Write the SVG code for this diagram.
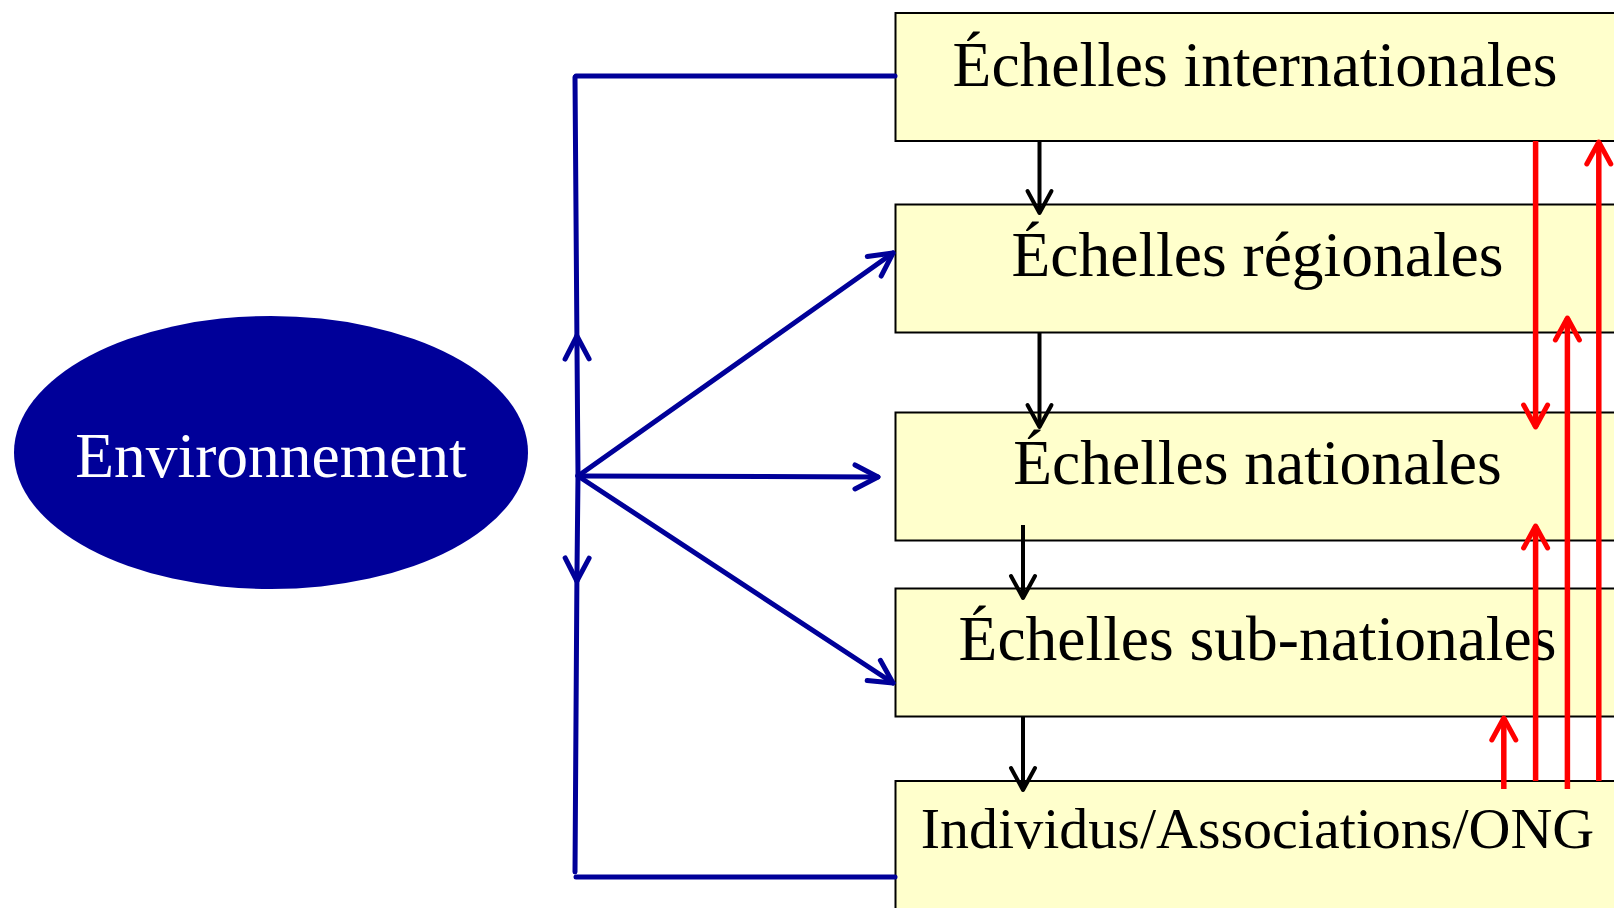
<svg xmlns="http://www.w3.org/2000/svg" width="1614" height="908" viewBox="0 0 1614 908">
<style>
.box{fill:#FFFFCC;stroke:#000;stroke-width:2}
.lbl{font-family:"Liberation Serif","Times New Roman",serif;font-size:63.5px;fill:#000;text-anchor:middle}
.small{font-size:58px}
.blue{stroke:#000099;stroke-width:5;fill:none;stroke-linecap:round}
.black{stroke:#000;stroke-width:4;fill:none}
.red{stroke:#FF0000;stroke-width:5.5;fill:none}
</style>
<defs>
<marker id="ab" markerUnits="userSpaceOnUse" orient="auto" overflow="visible" markerWidth="30" markerHeight="30" refX="0" refY="0">
<path d="M-23,-12 L0,0 L-23,12" fill="none" stroke="#000099" stroke-width="5" stroke-linecap="round" stroke-linejoin="round"/>
</marker>
<marker id="ak" markerUnits="userSpaceOnUse" orient="auto" overflow="visible" markerWidth="30" markerHeight="30" refX="0" refY="0">
<path d="M-22,-12 L0,0 L-22,12" fill="none" stroke="#000" stroke-width="4" stroke-linecap="round" stroke-linejoin="round"/>
</marker>
<marker id="ar" markerUnits="userSpaceOnUse" orient="auto" overflow="visible" markerWidth="30" markerHeight="30" refX="0" refY="0">
<path d="M-22,-12 L0,0 L-22,12" fill="none" stroke="#FF0000" stroke-width="5" stroke-linecap="round" stroke-linejoin="round"/>
</marker>
</defs>
<rect width="1614" height="908" fill="#fff"/>
<g id="environnement">
<ellipse cx="271" cy="452.5" rx="257" ry="136.5" fill="#000099"/>
<text x="271" y="476.5" class="lbl" style="fill:#fff">Environnement</text>
</g>
<g id="internationales">
<rect x="895.5" y="13" width="725" height="128" class="box"/>
<text x="1255" y="85.5" class="lbl">Échelles internationales</text>
</g>
<g id="regionales">
<rect x="895.5" y="204.5" width="725" height="128" class="box"/>
<text x="1257.5" y="276" class="lbl">Échelles régionales</text>
</g>
<g id="nationales">
<rect x="895.5" y="412.5" width="725" height="128" class="box"/>
<text x="1257.5" y="484" class="lbl">Échelles nationales</text>
</g>
<g id="subnationales">
<rect x="895.5" y="588.5" width="725" height="128" class="box"/>
<text x="1257.5" y="660" class="lbl">Échelles sub-nationales</text>
</g>
<g id="individus">
<rect x="895.5" y="781" width="725" height="140" class="box"/>
<text x="1257.5" y="848" class="lbl small">Individus/Associations/ONG</text>
</g>
<g id="connectors">
<path class="blue" d="M895,76 L576,76"/>
<path class="blue" d="M575,77 L576.9,335"/>
<path class="blue" d="M578,475 L576.9,336" marker-end="url(#ab)"/>
<path class="blue" d="M578,475 L576.9,581" marker-end="url(#ab)"/>
<path class="blue" d="M576.9,581 L575,872"/>
<path class="blue" d="M576,877 L895,877"/>
<path class="blue" d="M578,476 L878,477" marker-end="url(#ab)"/>
<path class="blue" d="M578,476 L893,253" marker-end="url(#ab)"/>
<path class="blue" d="M578,476 L893,683" marker-end="url(#ab)"/>
<path class="black" d="M1039.5,141 L1039.5,213" marker-end="url(#ak)"/>
<path class="black" d="M1039.5,332.5 L1039.5,427" marker-end="url(#ak)"/>
<path class="black" d="M1023,525 L1023,598" marker-end="url(#ak)"/>
<path class="black" d="M1023,716.5 L1023,790" marker-end="url(#ak)"/>
<path class="red" d="M1503.8,789 L1503.8,718" marker-end="url(#ar)"/>
<path class="red" d="M1535.6,141 L1535.6,427" marker-end="url(#ar)"/>
<path class="red" d="M1535.6,781 L1535.6,526" marker-end="url(#ar)"/>
<path class="red" d="M1567.4,789 L1567.4,318" marker-end="url(#ar)"/>
<path class="red" d="M1598.8,781 L1598.8,142" marker-end="url(#ar)"/>
</g>
</svg>
